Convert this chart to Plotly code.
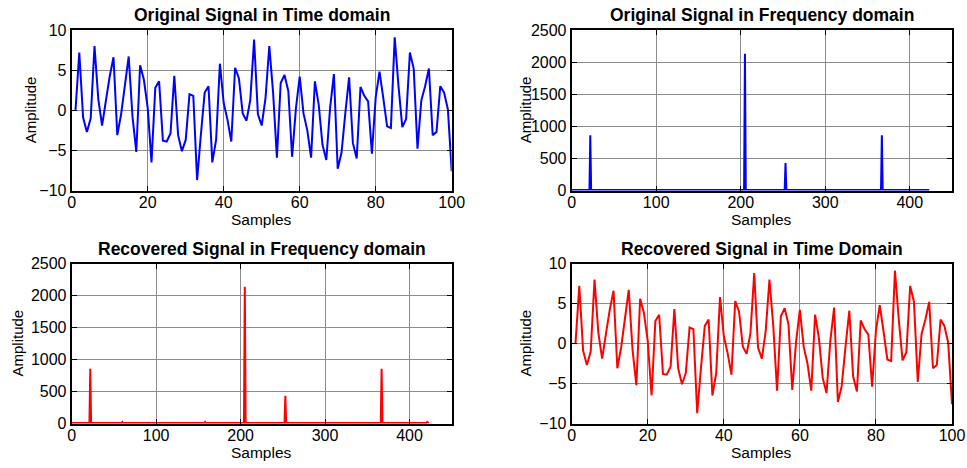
import plotly.graph_objects as go

# ---------------- data ----------------
samples = list(range(1, 101))
original_signal = [
    0, 7.2, -0.9, -2.7, -1.0, 8.0, 1.4, -1.9, 1.2, 4.2,
    6.6, -3.1, -0.5, 3.3, 6.7, -0.8, -5.2, 5.6, 3.8, 0.3,
    -6.5, 2.8, 3.6, -3.8, -3.9, -2.9, 4.3, -3.1, -5.1, -3.7,
    2.0, 1.8, -8.7, -3.0, 2.2, 3.0, -6.5, -3.7, 5.8, 0.9,
    -1.2, -3.9, 5.3, 4.0, -0.4, -1.3, 1.3, 8.8, -0.5, -1.9,
    1.5, 8.0, 2.2, -5.9, 3.4, 4.4, 2.4, -5.8, 0.2, 4.2,
    -0.4, -2.5, -5.9, 3.6, 0.7, -4.3, -6.2, 0.3, 4.5, -7.3,
    -5.3, -0.4, 4.1, -4.1, -6.0, 2.9, 1.8, 1.1, -5.4, 1.6,
    4.8, 1.5, -2.0, -2.2, 9.1, 3.0, -2.1, -1.1, 7.2, 5.2,
    -4.8, 1.2, 3.0, 5.2, -3.1, -2.7, 3.0, 2.2, 0.1, -7.6,
]
recovered_signal = [
    0, 7.2, -0.9, -2.7, -1.0, 8.0, 1.4, -1.9, 1.2, 4.2,
    6.6, -3.1, -0.5, 3.3, 6.7, -0.8, -5.2, 5.6, 3.8, 0.3,
    -6.5, 2.8, 3.6, -3.8, -3.9, -2.9, 4.3, -3.1, -5.1, -3.7,
    2.0, 1.8, -8.7, -3.0, 2.2, 3.0, -6.5, -3.7, 5.8, 0.9,
    -1.2, -3.9, 5.3, 4.0, -0.4, -1.3, 1.3, 8.8, -0.5, -1.9,
    1.5, 8.0, 2.2, -5.9, 3.4, 4.4, 2.4, -5.8, 0.2, 4.2,
    -0.4, -2.5, -5.9, 3.6, 0.7, -4.3, -6.2, 0.3, 4.5, -7.3,
    -5.3, -0.4, 4.1, -4.1, -6.0, 2.9, 1.8, 1.1, -5.4, 1.6,
    4.8, 1.5, -2.0, -2.2, 9.1, 3.0, -2.1, -1.1, 7.2, 5.2,
    -4.8, 1.2, 3.0, 5.2, -3.1, -2.7, 3.0, 2.2, 0.1, -7.6,
]

# frequency-domain magnitude (explicit points along the spectrum)
orig_freq_bins = [0, 21, 22, 23, 204, 205, 206, 252, 253, 254, 366, 367, 368, 423]
orig_freq_mag = [8, 8, 862, 8, 8, 2130, 8, 8, 428, 8, 8, 862, 8, 8]

rec_freq_bins = [0, 21, 22, 23, 59, 60, 61, 157, 158, 159, 204, 205, 206,
                 252, 253, 254, 366, 367, 368, 420, 421, 422, 423]
rec_freq_mag = [8, 8, 855, 8, 8, 25, 8, 8, 25, 8, 8, 2135, 8,
                8, 435, 8, 8, 855, 8, 8, 25, 8, 8]

titles = ["Original Signal in Time domain", "Original Signal in Frequency domain",
          "Recovered Signal in Frequency domain", "Recovered Signal in Time Domain"]

# ---------------- layout geometry ----------------
W, H = 967, 468
xdom_left = [71.7 / W, 451.7 / W]
xdom_right = [571.7 / W, 952.0 / W]
ydom_top = [1 - 190.5 / H, 1 - 30.0 / H]
ydom_bot = [1 - 423.5 / H, 1 - 263.5 / H]

FONT = "Liberation Sans, Arial, sans-serif"

fig = go.Figure()
fig.add_trace(go.Scatter(x=samples, y=original_signal, mode="lines",
                         line=dict(color="#0000ff", width=2), xaxis="x", yaxis="y"))
fig.add_trace(go.Scatter(x=orig_freq_bins, y=orig_freq_mag, mode="lines",
                         line=dict(color="#0000ff", width=2), xaxis="x2", yaxis="y2"))
fig.add_trace(go.Scatter(x=rec_freq_bins, y=rec_freq_mag, mode="lines",
                         line=dict(color="#ff0000", width=2), xaxis="x3", yaxis="y3"))
fig.add_trace(go.Scatter(x=samples, y=recovered_signal, mode="lines",
                         line=dict(color="#ff0000", width=2), xaxis="x4", yaxis="y4"))

def ax(dom, anchor, rng, dtick, standoff=0):
    return dict(domain=dom, anchor=anchor, range=rng, dtick=dtick, tick0=0,
                showline=True, linecolor="black", linewidth=2, mirror="allticks",
                ticks="inside", ticklen=5, tickcolor="black", tickwidth=1,
                showgrid=True, gridcolor="#8c8c8c", gridwidth=1,
                zeroline=False, fixedrange=True, automargin=False,
                ticklabelstandoff=standoff,
                tickfont=dict(family=FONT, size=16, color="black"))

fig.update_layout(
    template="none",
    width=W, height=H,
    margin=dict(l=0, r=0, t=0, b=0, pad=0, autoexpand=False),
    paper_bgcolor="white", plot_bgcolor="white",
    showlegend=False,
    xaxis=ax(xdom_left, "y", [0, 100], 20, -4),
    yaxis=ax(ydom_top, "x", [-10, 10], 5),
    xaxis2=ax(xdom_right, "y2", [0, 450], 100, -4),
    yaxis2=ax(ydom_top, "x2", [0, 2500], 500),
    xaxis3=ax(xdom_left, "y3", [0, 450], 100, -4),
    yaxis3=ax(ydom_bot, "x3", [0, 2500], 500),
    xaxis4=ax(xdom_right, "y4", [0, 100], 20, -4),
    yaxis4=ax(ydom_bot, "x4", [-10, 10], 5),
)

annots = []
centers = [(sum(xdom_left) / 2, ydom_top), (sum(xdom_right) / 2, ydom_top),
           (sum(xdom_left) / 2, ydom_bot), (sum(xdom_right) / 2, ydom_bot)]
for (cx, yd), t in zip(centers, titles):
    annots.append(dict(text="<b>" + t + "</b>", x=cx, y=yd[1], xref="paper", yref="paper",
                       yshift=3, xanchor="center", yanchor="bottom", showarrow=False,
                       font=dict(family=FONT, size=17.5, color="black")))
    annots.append(dict(text="Samples", x=cx, y=yd[0], xref="paper", yref="paper",
                       yshift=-18, xanchor="center", yanchor="top", showarrow=False,
                       font=dict(family=FONT, size=15.5, color="black")))

ylab_pos = [(30 / W, ydom_top), (525 / W, ydom_top), (17 / W, ydom_bot), (525 / W, ydom_bot)]
for px, yd in ylab_pos:
    annots.append(dict(text="Amplitude", x=px, y=sum(yd) / 2, xref="paper", yref="paper",
                       xanchor="center", yanchor="middle", textangle=-90, showarrow=False,
                       font=dict(family=FONT, size=15, color="black")))
fig.update_layout(annotations=annots)

fig.write_html("out.html")
